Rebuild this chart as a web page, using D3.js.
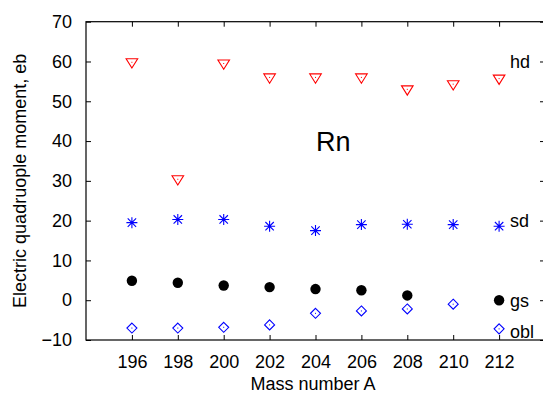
<!DOCTYPE html>
<html>
<head>
<meta charset="utf-8">
<script src="https://cdnjs.cloudflare.com/ajax/libs/d3/7.8.5/d3.min.js"></script>
<style>
  html, body { margin: 0; padding: 0; background: #fff; }
  svg { display: block; }
  text { font-family: "Liberation Sans", Arial, Helvetica, sans-serif; fill: #000; }
</style>
</head>
<body>
<script>
// ---- data ----
const masses = [196, 198, 200, 202, 204, 206, 208, 210, 212];
const hd  = [59.8, 30.4, 59.5, 56.0, 56.0, 56.0, 53.0, 54.3, 55.7];
const sd  = [19.5, 20.3, 20.3, 18.6, 17.5, 19.0, 19.1, 19.0, 18.6];
const gs  = [4.9, 4.4, 3.7, 3.3, 2.8, 2.5, 1.2, null, 0.0];
const obl = [-7.0, -7.0, -6.8, -6.2, -3.3, -2.7, -2.2, -1.0, -7.2];
const xTicks = [196, 198, 200, 202, 204, 206, 208, 210, 212];
const yTicks = [-10, 0, 10, 20, 30, 40, 50, 60, 70];
const seriesLabels = ["hd", "sd", "gs", "obl"];
const seriesLabelValues = [60, 20, 0, -8];

const W = 543, H = 396;
const L = 86, R = 545, T = 21.7, B = 340;

const svg = d3.select("body").append("svg").attr("width", W).attr("height", H);

const x = d3.scaleLinear().domain([194, 214]).range([L, R]);
const y = d3.scaleLinear().domain([-10, 70]).range([B, T]);

const fs = 18;

// axes
const gL = svg.append("g").attr("transform", `translate(${L},0)`)
  .call(d3.axisLeft(y).tickValues(yTicks).tickSize(-5).tickPadding(14).tickFormat(d3.format("d")));
const gB = svg.append("g").attr("transform", `translate(0,${B})`)
  .call(d3.axisBottom(x).tickValues(xTicks).tickSize(-5).tickPadding(15).tickFormat(d3.format("d")));
const gT = svg.append("g").attr("transform", `translate(0,${T})`)
  .call(d3.axisTop(x).tickValues(xTicks).tickSize(-5).tickFormat(""));
const gR = svg.append("g").attr("transform", `translate(${R},0)`)
  .call(d3.axisRight(y).tickValues(yTicks).tickSize(-5).tickFormat(""));

[gL, gB, gT, gR].forEach(g => {
  g.select(".domain").remove();
  g.selectAll(".tick line").attr("stroke", "#000").attr("stroke-width", 1);
  g.selectAll(".tick text").style("font-size", fs + "px")
    .style("font-family", '"Liberation Sans", Arial, sans-serif').attr("fill", "#000");
});

// frame
svg.append("rect").attr("x", L).attr("y", T).attr("width", R - L).attr("height", B - T)
  .attr("fill", "none").attr("stroke", "#000").attr("stroke-width", 1.2);

// axis titles
svg.append("text").attr("x", 313).attr("y", 390).attr("text-anchor", "middle")
  .style("font-size", fs + "px").text("Mass number A");
svg.append("text").attr("transform", `translate(26,${(T + B) / 2}) rotate(-90)`)
  .attr("text-anchor", "middle").style("font-size", fs + "px")
  .text("Electric quadruople moment, eb");

// Rn label
svg.append("text").attr("x", 316).attr("y", 151).style("font-size", "27px").text("Rn");

// helper
const pts = arr => masses.map((m, i) => ({m, v: arr[i]})).filter(d => d.v !== null);

// hd: open red down triangles
const gHd = svg.append("g");
pts(hd).forEach(d => {
  const cx = x(d.m), cy = y(d.v), s = 5.8;
  gHd.append("path")
    .attr("d", `M${cx - s},${cy - s * 0.6} L${cx + s},${cy - s * 0.6} L${cx},${cy + s * 1.0} Z`)
    .attr("fill", "none").attr("stroke", "#ff0000").attr("stroke-width", 1.1);
  gHd.append("rect").attr("x", cx - 0.5).attr("y", cy - 0.5).attr("width", 1).attr("height", 1).attr("fill", "#ff0000");
});

// sd: blue asterisks
const gSd = svg.append("g");
pts(sd).forEach(d => {
  const cx = x(d.m), cy = y(d.v), s = 5.5, q = 4.2;
  gSd.append("path")
    .attr("d", `M${cx - s},${cy} L${cx + s},${cy} M${cx},${cy - s} L${cx},${cy + s} M${cx - q},${cy - q} L${cx + q},${cy + q} M${cx - q},${cy + q} L${cx + q},${cy - q}`)
    .attr("stroke", "#0000ff").attr("stroke-width", 1.1).attr("fill", "none");
});

// gs: black filled circles
svg.append("g").selectAll("circle").data(pts(gs)).join("circle")
  .attr("cx", d => x(d.m)).attr("cy", d => y(d.v)).attr("r", 5.2).attr("fill", "#000");

// obl: open blue diamonds
const gObl = svg.append("g");
pts(obl).forEach(d => {
  const cx = x(d.m), cy = y(d.v), s = 5;
  gObl.append("path")
    .attr("d", `M${cx},${cy - s} L${cx + s},${cy} L${cx},${cy + s} L${cx - s},${cy} Z`)
    .attr("fill", "none").attr("stroke", "#0000ff").attr("stroke-width", 1.1);
  gObl.append("rect").attr("x", cx - 0.5).attr("y", cy - 0.5).attr("width", 1).attr("height", 1).attr("fill", "#0000ff");
});

// series labels
seriesLabels.forEach((t, i) => {
  svg.append("text").attr("x", 510).attr("y", y(seriesLabelValues[i]))
    .attr("dy", "0.35em").style("font-size", fs + "px").text(t);
});
</script>
</body>
</html>
